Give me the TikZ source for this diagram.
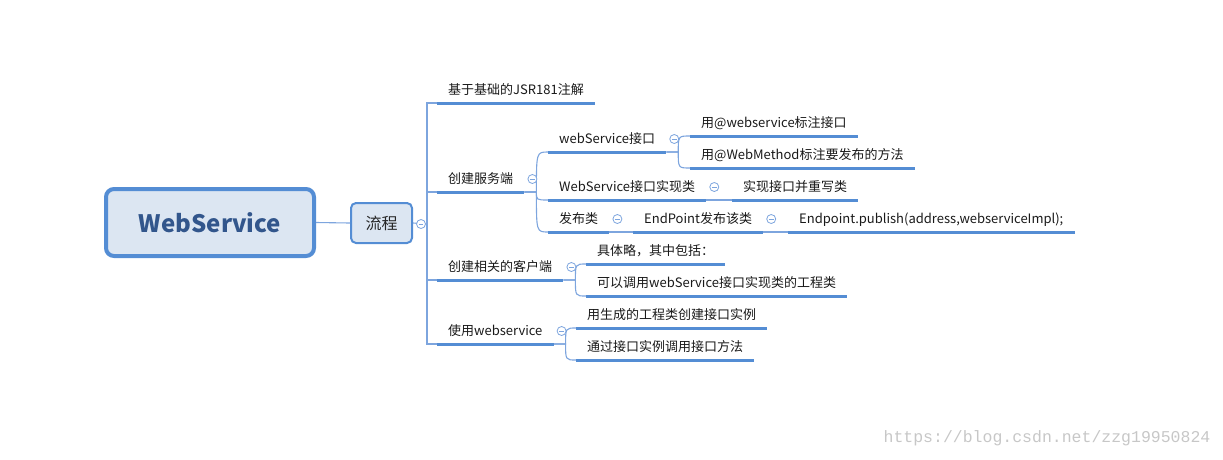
\documentclass[tikz,border=0pt]{standalone}
\usepackage{fontspec}
\setmainfont{Noto Sans CJK SC}
\newfontfamily\wmfont{Liberation Mono}
\usetikzlibrary{positioning}
\usepackage{xcolor}
\definecolor{lblue}{RGB}{84,141,212}
\definecolor{cblue}{RGB}{125,165,222}
\definecolor{rfill}{RGB}{220,230,242}
\definecolor{rtext}{RGB}{50,86,140}

\begin{document}
\begin{tikzpicture}[x=1pt, y=-1pt,
  root/.style={draw=lblue, line width=4pt, rounded corners=8pt, fill=rfill, text=rtext,
               font=\fontsize{24}{28}\selectfont\bfseries, minimum width=208pt, minimum height=67pt},
  sub/.style={draw=lblue, line width=2pt, rounded corners=5pt, fill=rfill, text=black!85,
              font=\fontsize{16}{18}\selectfont, minimum width=61pt, minimum height=40pt},
  item/.style={anchor=south west, font=\fontsize{13}{15}\selectfont, text=black!90,
               text height=10pt, text depth=3pt, inner xsep=11pt, inner ysep=5pt},
  uline/.style={lblue, line width=3pt},
  conn/.style={cblue, line width=1.1pt},
  fold/.style={circle, draw=cblue, fill=white, line width=0.8pt, inner sep=0pt, minimum size=9pt,
               path picture={\draw[cblue, line width=0.8pt]
                 ([xshift=-2.4pt]path picture bounding box.center) -- ([xshift=2.4pt]path picture bounding box.center);}},
  wm/.style={font=\wmfont\fontsize{16.5}{18}\selectfont, text=black!22}
]
\useasboundingbox (0,0) rectangle (1223,459);

% main nodes
\node[root] (ws)   at (210,222.5) {WebService};
\node[sub]  (flow) at (381.5,223) {流程};

% first level
\node[item] (jsr)   at (437,103) {基于基础的JSR181注解};
\node[item] (srv)   at (437,192) {创建服务端};
\node[item] (cli)   at (437,280) {创建相关的客户端};
\node[item] (usews) at (437,344) {使用webservice};

% server side
\node[item] (wsi)    at (548,152) {webService接口};
\node[item] (ann1)   at (690,136) {用@webservice标注接口};
\node[item] (ann2)   at (690,168) {用@WebMethod标注要发布的方法};
\node[item] (impl)   at (548,200) {WebService接口实现类};
\node[item] (over)   at (732,200) {实现接口并重写类};
\node[item] (pub)    at (548,232) {发布类};
\node[item] (ep)     at (633,232) {EndPoint发布该类};
\node[item] (epcode) at (788,232) {Endpoint.publish(address,webserviceImpl);};

% client side
\node[item] (cl1) at (586,264) {具体略，其中包括：};
\node[item] (cl2) at (586,296) {可以调用webService接口实现类的工程类};
\node[item] (us1) at (576,328) {用生成的工程类创建接口实例};
\node[item] (us2) at (576,360) {通过接口实例调用接口方法};

% connectors
\coordinate (trk) at (427,224);
\draw[conn] (ws.east) -- (flow.west);
\draw[conn] (flow.east) -- (trk);
\foreach \n in {jsr,srv,cli,usews}
  \draw[conn] (trk) |- (\n.south west);
\foreach \p/\c in {srv/wsi, srv/impl, srv/pub, wsi/ann1, wsi/ann2, impl/over,
                   pub/ep, ep/epcode, cli/cl1, cli/cl2, usews/us1, usews/us2} {
  \coordinate (j) at ([xshift=12pt]\p.south east);
  \draw[conn] (\p.south east) -- (j) .. controls (j |- \c.south west) .. (\c.south west);
}

% underlines
\foreach \n in {jsr,srv,cli,usews,wsi,ann1,ann2,impl,over,pub,ep,epcode,cl1,cl2,us1,us2}
  \draw[uline] (\n.south west) -- (\n.south east);

% fold marks
\node[fold] (f0) at (421,224) {};
\foreach \n in {srv,wsi,impl,pub,ep,cli,usews}
  \node[fold] (f\n) at ([xshift=8pt,yshift=13pt]\n.south east) {};

\node[wm] (mark) at (1047,438) {https://blog.csdn.net/zzg19950824};
\end{tikzpicture}
\end{document}
